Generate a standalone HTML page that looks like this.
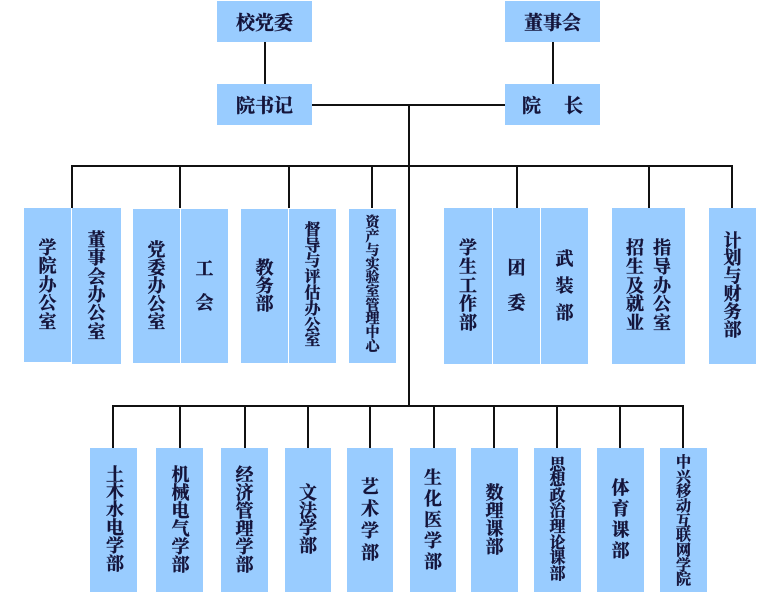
<!DOCTYPE html>
<html><head><meta charset="utf-8">
<style>
html,body{margin:0;padding:0;background:#fff;}
body{width:781px;height:604px;position:relative;overflow:hidden;font-family:"Liberation Serif","Noto Serif CJK SC",serif;}
.b{position:absolute;background:#99CCFF;display:flex;align-items:center;justify-content:center;color:#14143a;font-weight:700;-webkit-text-stroke:0.35px #14143a;}
.v{width:1.05em;text-align:center;word-break:break-all;}
.l{position:absolute;background:#111;}
.h{height:2px;}
.w{width:2px;}
</style></head><body>
<!-- lines -->
<div class="l w" style="left:264px;top:42px;height:42px"></div>
<div class="l w" style="left:552px;top:42px;height:42px"></div>
<div class="l h" style="left:312px;top:104px;width:193px"></div>
<div class="l w" style="left:408px;top:104px;height:303px"></div>
<div class="l h" style="left:71px;top:165px;width:662px"></div>
<div class="l w" style="left:71px;top:165px;height:43px"></div>
<div class="l w" style="left:179px;top:165px;height:43px"></div>
<div class="l w" style="left:288px;top:165px;height:43px"></div>
<div class="l w" style="left:371px;top:165px;height:43px"></div>
<div class="l w" style="left:516px;top:165px;height:43px"></div>
<div class="l w" style="left:648px;top:165px;height:43px"></div>
<div class="l w" style="left:731px;top:165px;height:43px"></div>
<div class="l h" style="left:112px;top:405px;width:572px"></div>
<div class="l w" style="left:112px;top:405px;height:43px"></div>
<div class="l w" style="left:179px;top:405px;height:43px"></div>
<div class="l w" style="left:244px;top:405px;height:43px"></div>
<div class="l w" style="left:307px;top:405px;height:43px"></div>
<div class="l w" style="left:369px;top:405px;height:43px"></div>
<div class="l w" style="left:433px;top:405px;height:43px"></div>
<div class="l w" style="left:493px;top:405px;height:43px"></div>
<div class="l w" style="left:556px;top:405px;height:43px"></div>
<div class="l w" style="left:619px;top:405px;height:43px"></div>
<div class="l w" style="left:682px;top:405px;height:43px"></div>

<!-- top boxes -->
<div class="b" style="left:217px;top:1px;width:95px;height:41px;font-size:19px">校党委</div>
<div class="b" style="left:217px;top:84px;width:95px;height:41px;font-size:19px">院书记</div>
<div class="b" style="left:505px;top:1px;width:95px;height:41px;font-size:19px">董事会</div>
<div class="b" style="left:505px;top:84px;width:95px;height:41px;font-size:19px">院<span style="display:inline-block;width:23px"></span>长</div>

<!-- middle boxes -->
<div class="b" style="left:24px;top:208px;width:47px;height:154px;font-size:18px"><div class="v" style="line-height:18.4px">学院办公室</div></div>
<div class="b" style="left:72px;top:208px;width:49px;height:156px;font-size:18px"><div class="v" style="line-height:18.3px">董事会办公室</div></div>
<div class="b" style="left:133px;top:209px;width:47px;height:154px;font-size:18px"><div class="v" style="line-height:18px">党委办公室</div></div>
<div class="b" style="left:181px;top:209px;width:47px;height:154px;font-size:18px"><div class="v" style="line-height:34px">工会</div></div>
<div class="b" style="left:241px;top:209px;width:47px;height:154px;font-size:18px"><div class="v" style="line-height:18px">教务部</div></div>
<div class="b" style="left:289px;top:209px;width:47px;height:154px;font-size:16px"><div class="v" style="line-height:15.8px">督导与评估办公室</div></div>
<div class="b" style="left:349px;top:209px;width:47px;height:154px;font-size:14px"><div class="v" style="line-height:13.7px">资产与实验室管理中心</div></div>
<div class="b" style="left:444px;top:208px;width:48px;height:156px;font-size:18px"><div class="v" style="line-height:18.8px">学生工作部</div></div>
<div class="b" style="left:493px;top:208px;width:47px;height:156px;font-size:18px"><div class="v" style="line-height:35px">团委</div></div>
<div class="b" style="left:541px;top:208px;width:47px;height:156px;font-size:18px"><div class="v" style="line-height:27px">武装部</div></div>
<div class="b" style="left:612px;top:208px;width:73px;height:156px;font-size:18px"><div class="v" style="line-height:18.8px;margin-right:8px">招生及就业</div><div class="v" style="line-height:18.8px">指导办公室</div></div>
<div class="b" style="left:709px;top:208px;width:47px;height:156px;font-size:18px"><div class="v" style="line-height:17.8px">计划与财务部</div></div>

<!-- bottom boxes -->
<div class="b" style="left:90px;top:448px;width:47px;height:144px;font-size:18px"><div class="v" style="line-height:17.8px;margin-left:3px">土木水电学部</div></div>
<div class="b" style="left:156px;top:448px;width:47px;height:144px;font-size:18px"><div class="v" style="line-height:18px;margin-left:2px">机械电气学部</div></div>
<div class="b" style="left:221px;top:448px;width:47px;height:144px;font-size:18px"><div class="v" style="line-height:18px">经济管理学部</div></div>
<div class="b" style="left:285px;top:448px;width:46px;height:144px;font-size:18px"><div class="v" style="line-height:17.5px">文法学部</div></div>
<div class="b" style="left:347px;top:448px;width:46px;height:144px;font-size:18px"><div class="v" style="line-height:22px">艺术学部</div></div>
<div class="b" style="left:410px;top:448px;width:46px;height:144px;font-size:18px"><div class="v" style="line-height:21px">生化医学部</div></div>
<div class="b" style="left:471px;top:448px;width:47px;height:144px;font-size:18px"><div class="v" style="line-height:18px">数理课部</div></div>
<div class="b" style="left:534px;top:448px;width:47px;height:144px;font-size:16px"><div class="v" style="line-height:15.6px">思想政治理论课部</div></div>
<div class="b" style="left:597px;top:448px;width:47px;height:144px;font-size:18px"><div class="v" style="line-height:21px">体育课部</div></div>
<div class="b" style="left:660px;top:448px;width:47px;height:144px;font-size:15px"><div class="v" style="line-height:14.7px;margin-top:4px">中兴移动互联网学院</div></div>
</body></html>
